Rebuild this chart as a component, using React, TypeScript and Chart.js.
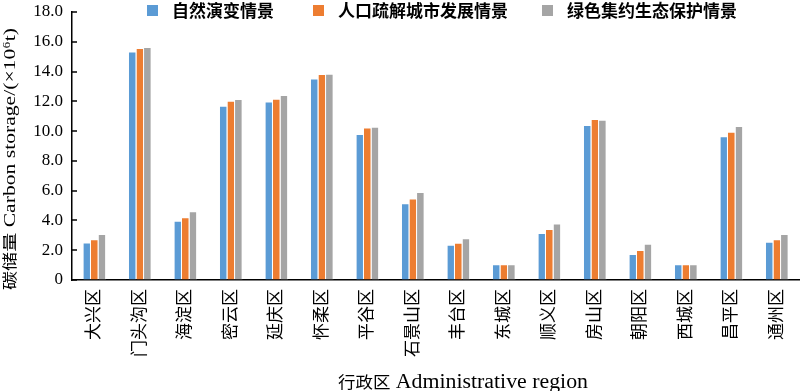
import React, { useEffect, useRef } from "react";
import { Chart, registerables } from "chart.js";

Chart.register(...registerables);

const categories = ["大兴区", "门头沟区", "海淀区", "密云区", "延庆区", "怀柔区", "平谷区", "石景山区", "丰台区", "东城区", "顺义区", "房山区", "朝阳区", "西城区", "昌平区", "通州区"];
const seriesNames = ["自然演变情景", "人口疏解城市发展情景", "绿色集约生态保护情景"];
const naturalValues = [2.52, 15.35, 3.98, 11.71, 11.99, 13.54, 9.8, 5.15, 2.37, 1.05, 3.15, 10.41, 1.74, 1.05, 9.65, 2.57];
const populationValues = [2.73, 15.58, 4.21, 12.04, 12.18, 13.83, 10.25, 5.48, 2.5, 1.05, 3.42, 10.81, 2.01, 1.05, 9.96, 2.73];
const greenValues = [3.09, 15.65, 4.61, 12.15, 12.42, 13.85, 10.3, 5.91, 2.8, 1.05, 3.8, 10.77, 2.44, 1.05, 10.34, 3.09];
const seriesColors = ["#5B9BD5", "#ED7D31", "#A5A5A5"];
const yTickValues = [0, 2, 4, 6, 8, 10, 12, 14, 16, 18];
const yTitleParts = ["碳储量", " Carbon storage/", "(×10⁶t)"];
const xTitleParts = ["行政区", " Administrative region"];

const SERIF = "'Liberation Serif', 'Noto Sans CJK SC', serif";
const CJK = "'Noto Sans CJK SC', sans-serif";

type Part = { text: string; font: string };

function drawParts(ctx: CanvasRenderingContext2D, parts: Part[], cx: number, cy: number, targetLen: number, rotate: boolean) {
  let total = 0;
  const widths = parts.map((p) => {
    ctx.font = p.font;
    const w = ctx.measureText(p.text).width;
    total += w;
    return w;
  });
  const s = targetLen / total;
  ctx.save();
  ctx.translate(cx, cy);
  if (rotate) ctx.rotate(-Math.PI / 2);
  ctx.scale(s, 1);
  ctx.fillStyle = "#000";
  ctx.textBaseline = "alphabetic";
  ctx.textAlign = "left";
  let x = -total / 2;
  parts.forEach((p, i) => {
    ctx.font = p.font;
    ctx.fillText(p.text, x, 0);
    x += widths[i];
  });
  ctx.restore();
}

const decorPlugin = {
  id: "decor",
  afterDraw(chart: any) {
    const ctx: CanvasRenderingContext2D = chart.ctx;
    const { left } = chart.chartArea;
    const yScale = chart.scales.y;
    ctx.save();
    // inward tick marks on y axis
    ctx.strokeStyle = "#000";
    ctx.lineWidth = 1.5;
    yTickValues.forEach((v) => {
      const py = Math.round(yScale.getPixelForValue(v));
      ctx.beginPath();
      ctx.moveTo(left, py);
      ctx.lineTo(left + 5, py);
      ctx.stroke();
    });
    // legend
    const legendX = [147, 313, 542];
    chart.data.datasets.forEach((ds: any, i: number) => {
      ctx.fillStyle = ds.backgroundColor;
      ctx.fillRect(legendX[i], 5, 11, 11);
      ctx.fillStyle = "#000";
      ctx.font = `bold 17px ${CJK}`;
      ctx.textBaseline = "middle";
      ctx.textAlign = "left";
      ctx.fillText(ds.label, legendX[i] + 25, 11);
    });
    ctx.restore();
    // axis titles
    drawParts(
      ctx,
      [
        { text: yTitleParts[0], font: `15px ${CJK}` },
        { text: yTitleParts[1], font: `17px ${SERIF}` },
        { text: yTitleParts[2], font: `17px ${SERIF}` },
      ],
      15,
      159,
      262,
      true
    );
    drawParts(
      ctx,
      [
        { text: xTitleParts[0], font: `16px ${CJK}` },
        { text: xTitleParts[1], font: `20px ${SERIF}` },
      ],
      463,
      388,
      250,
      false
    );
  },
};

export default function App() {
  const canvasRef = useRef<HTMLCanvasElement | null>(null);

  useEffect(() => {
    const canvas = canvasRef.current;
    if (!canvas) return;
    const values = [naturalValues, populationValues, greenValues];
    const chart = new Chart(canvas, {
      type: "bar",
      data: {
        labels: categories,
        datasets: seriesNames.map((name, i) => ({
          label: name,
          data: values[i],
          backgroundColor: seriesColors[i],
          borderColor: "rgba(255,255,255,0.6)",
          borderWidth: { top: 1, right: 1, left: 0, bottom: 0 },
          categoryPercentage: 0.5,
          barPercentage: 1.0,
        })),
      },
      options: {
        responsive: false,
        animation: false,
        devicePixelRatio: 1,
        layout: { padding: { top: 12, right: 0, bottom: 0, left: 0 } },
        plugins: {
          legend: { display: false },
          tooltip: { enabled: false },
        },
        scales: {
          x: {
            grid: { display: true, drawOnChartArea: false, drawTicks: false },
            border: { display: true, color: "#000", width: 1.5 },
            ticks: {
              minRotation: 90,
              maxRotation: 90,
              autoSkip: false,
              padding: 9,
              color: "#000",
              font: { family: SERIF, size: 17 },
            },
            afterFit: (scale: any) => {
              scale.height = 111;
              scale.paddingLeft = 0;
              scale.paddingRight = 0;
            },
          },
          y: {
            min: 0,
            max: 18,
            grid: { display: true, drawOnChartArea: false, drawTicks: false },
            border: { display: true, color: "#000", width: 1.5 },
            ticks: {
              stepSize: 2,
              padding: 9,
              color: "#000",
              font: { family: SERIF, size: 17 },
              callback: (v: any) => (Number(v) === 0 ? "0" : Number(v).toFixed(1)),
            },
            afterFit: (scale: any) => {
              scale.width = 72;
              scale.paddingTop = 0;
              scale.paddingBottom = 0;
            },
          },
        },
      },
      plugins: [decorPlugin],
    });
    return () => chart.destroy();
  }, []);

  return (
    <div style={{ position: "absolute", left: 0, top: 0, width: 800, height: 391, background: "#fff" }}>
      <canvas ref={canvasRef} width={800} height={391} style={{ display: "block", width: 800, height: 391 }} />
    </div>
  );
}
